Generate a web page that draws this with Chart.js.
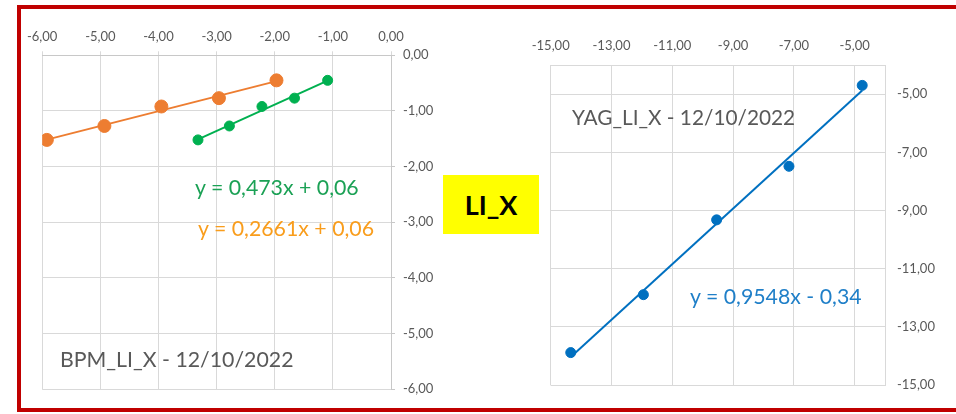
<!DOCTYPE html>
<html>
<head>
<meta charset="utf-8">
<script src="https://cdn.jsdelivr.net/npm/chart.js@4.4.1/dist/chart.umd.min.js"></script>
<style>
  html, body { margin: 0; padding: 0; background: #fff; }
  body { width: 956px; height: 414px; position: relative; overflow: hidden; font-family: Lato, sans-serif; }
  .frame { position: absolute; left: 17px; top: 5px; width: 960px; height: 399px; border: 4px solid #C00000; border-right: none; }
  .wrap { position: absolute; }
  .txt { position: absolute; white-space: nowrap; line-height: 1; }
  .tag { position: absolute; left: 443px; top: 175px; width: 96px; height: 59px; background: #FFFF00;
         display: flex; align-items: center; justify-content: center; font-weight: bold; font-size: 27px; color: #000; }
</style>
</head>
<body>
<div class="frame"></div>
<div class="wrap" style="left:20px; top:10px; width:450px; height:395px;"><canvas id="chartBpm"></canvas></div>
<div class="wrap" style="left:520px; top:10px; width:430px; height:395px;"><canvas id="chartYag"></canvas></div>

<div class="txt" style="left:60px; top:349px; font-size:21.3px; color:#595959;">BPM_LI_X - 12/10/2022</div>
<div class="txt" style="left:195px; top:177px; font-size:21.3px; color:#1BA155;">y = 0,473x + 0,06</div>
<div class="txt" style="left:198px; top:218px; font-size:21.3px; color:#F99D1C;">y = 0,2661x + 0,06</div>
<div class="txt" style="left:572px; top:107px; font-size:20.8px; color:#595959;">YAG_LI_X - 12/10/2022</div>
<div class="txt" style="left:690px; top:286px; font-size:21.3px; color:#1F7FC8;">y = 0,9548x - 0,34</div>
<div class="tag">LI_X</div>

<script>
// BPM chart data
const bpmXTicks = [-6, -5, -4, -3, -2, -1, 0];
const bpmYTicks = [-6, -5, -4, -3, -2, -1, 0];
const bpmOrangeX = [-5.92, -4.93, -3.95, -2.96, -1.97];
const bpmOrangeY = [-1.52, -1.27, -0.92, -0.77, -0.45];
const bpmOrangeFit = [0.2661, 0.06];
const bpmGreenX = [-3.32, -2.78, -2.22, -1.66, -1.09];
const bpmGreenY = [-1.52, -1.27, -0.92, -0.77, -0.45];
const bpmGreenFit = [0.473, 0.06];

// YAG chart data
const yagXTicks = [-15, -13, -11, -9, -7, -5];
const yagYTicks = [-15, -13, -11, -9, -7, -5];
const yagX = [-14.34, -11.95, -9.54, -7.16, -4.75];
const yagY = [-13.88, -11.89, -9.32, -7.48, -4.7];
const yagFit = [0.9548, -0.34];

const tickFont = { family: "Lato", size: 13 };
const tickColor = "#595959";
const gridColor = "#D9D9D9";

const fmt = (v) => {
  const s = Number(v).toFixed(2).replace(".", ",");
  return s === "-0,00" ? "0,00" : s;
};

const toPoints = (xs, ys) => xs.map((x, i) => ({ x: x, y: ys[i] }));

// trendline over the data range, from the equation shown on the chart
const trend = (xs, fit) => {
  const lo = Math.min(...xs);
  const hi = Math.max(...xs);
  return [lo, hi].map((x) => ({ x: x, y: fit[0] * x + fit[1] }));
};

const setTicks = (list) => (scale) => {
  scale.ticks = list.map((v) => ({ value: v }));
};

// Chart BPM
new Chart(document.getElementById("chartBpm"), {
  type: "scatter",
  data: {
    datasets: [
      {
        data: toPoints(bpmOrangeX, bpmOrangeY),
        backgroundColor: "#ED7D31",
        borderColor: "#ED7D31",
        pointRadius: 6.5,
        showLine: false,
      },
      {
        data: toPoints(bpmGreenX, bpmGreenY),
        backgroundColor: "#00B050",
        borderColor: "#00B050",
        pointRadius: 5,
        showLine: false,
      },
      {
        data: trend(bpmOrangeX, bpmOrangeFit),
        borderColor: "#ED7D31",
        borderWidth: 2,
        pointRadius: 0,
        showLine: true,
      },
      {
        data: trend(bpmGreenX, bpmGreenFit),
        borderColor: "#00B050",
        borderWidth: 2,
        pointRadius: 0,
        showLine: true,
      },
    ],
  },
  options: {
    responsive: true,
    maintainAspectRatio: false,
    animation: false,
    layout: { padding: { left: 21.7, right: 0, top: 0, bottom: 14 } },
    plugins: { legend: { display: false }, tooltip: { enabled: false } },
    scales: {
      x: {
        type: "linear",
        position: "top",
        min: -6,
        max: 0,
        afterBuildTicks: setTicks(bpmXTicks),
        afterFit: (scale) => { scale.height = 45.3; },
        ticks: { callback: fmt, color: tickColor, font: tickFont, padding: 7, maxRotation: 0, autoSkip: false },
        grid: { color: gridColor, tickColor: gridColor, tickLength: 4 },
        border: { display: true, color: "#C8C8C8" },
      },
      y: {
        type: "linear",
        position: "right",
        min: -6,
        max: 0,
        afterBuildTicks: setTicks(bpmYTicks),
        afterFit: (scale) => { scale.width = 79; },
        ticks: { callback: fmt, color: tickColor, font: tickFont, padding: 8, autoSkip: false },
        grid: { color: gridColor, tickColor: "#C8C8C8", tickLength: 4 },
        border: { display: true, color: "#C8C8C8" },
      },
    },
  },
});

// Chart YAG
new Chart(document.getElementById("chartYag"), {
  type: "scatter",
  data: {
    datasets: [
      {
        data: toPoints(yagX, yagY),
        backgroundColor: "#0070C0",
        borderColor: "#0070C0",
        pointRadius: 5,
        showLine: false,
      },
      {
        data: trend(yagX, yagFit),
        borderColor: "#0070C0",
        borderWidth: 2,
        pointRadius: 0,
        showLine: true,
      },
    ],
  },
  options: {
    responsive: true,
    maintainAspectRatio: false,
    animation: false,
    layout: { padding: { left: 30.7, right: 0, top: 0, bottom: 15 } },
    plugins: { legend: { display: false }, tooltip: { enabled: false } },
    scales: {
      x: {
        type: "linear",
        position: "top",
        min: -15,
        max: -4,
        afterBuildTicks: setTicks(yagXTicks),
        afterFit: (scale) => { scale.height = 55; },
        ticks: { callback: fmt, color: tickColor, font: tickFont, padding: 11, maxRotation: 0, autoSkip: false },
        grid: { color: gridColor, drawTicks: false },
        border: { display: true, color: gridColor },
      },
      y: {
        type: "linear",
        position: "right",
        min: -15,
        max: -4,
        afterBuildTicks: setTicks(yagYTicks),
        afterFit: (scale) => { scale.width = 65; },
        ticks: { callback: fmt, color: tickColor, font: tickFont, padding: 12, autoSkip: false },
        grid: { color: gridColor, drawTicks: false },
        border: { display: true, color: gridColor },
      },
    },
  },
});
</script>
</body>
</html>
